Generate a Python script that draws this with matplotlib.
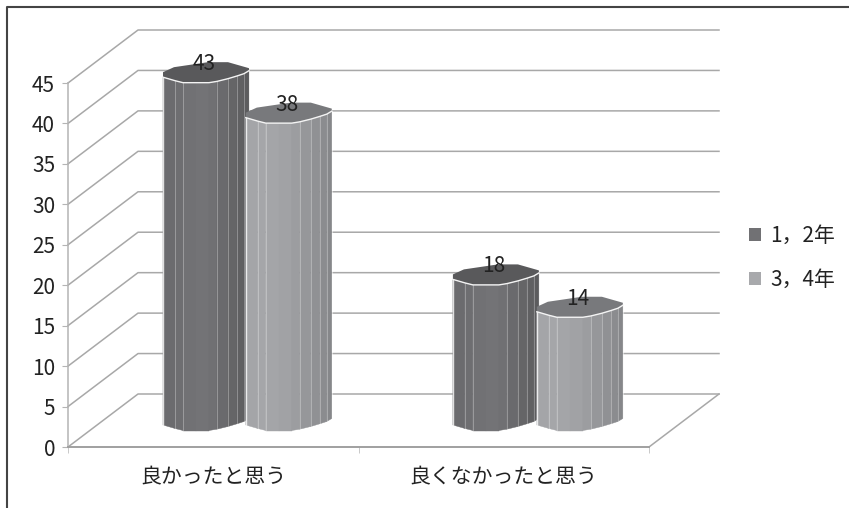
import numpy as np
import matplotlib
matplotlib.use("Agg")
import matplotlib.pyplot as plt
from matplotlib.patches import Polygon, Rectangle
from matplotlib.lines import Line2D
from matplotlib.font_manager import FontProperties

categories = ["良かったと思う", "良くなかったと思う"]
series_names = ["1，2年", "3，4年"]
series_a = [43, 18]
series_b = [38, 14]
y_ticks = [0, 5, 10, 15, 20, 25, 30, 35, 40, 45]

FAM = ['Noto Sans CJK JP', 'DejaVu Sans']
plt.rcParams['font.family'] = FAM
W, H = 849, 508
fig = plt.figure(figsize=(W/100, H/100), dpi=100)
L, R, B, T = 68, 649, 447, 83
ax = fig.add_axes([L/W, 1-B/H, (R-L)/W, (B-T)/H])
ax.set_xlim(0, 2)
ax.set_ylim(0, 45)
ax.patch.set_alpha(0)

ux = (R-L)/2          # px per category
uy = (B-T)/45         # px per value unit
DX, DY = 70/ux, 53/uy  # chart depth
GRID = '#a8a8a8'

for v in y_ticks:
    ax.plot([0, DX, 2+DX], [v, v+DY, v+DY], color=GRID, lw=1.1, clip_on=False, zorder=1)
ax.plot([2, 2+DX], [0, DY], color=GRID, lw=1.1, clip_on=False, zorder=1)

for s in ('top', 'right'):
    ax.spines[s].set_visible(False)
ax.spines['left'].set_color('#b4b4b4')
ax.spines['left'].set_linewidth(1.1)
ax.spines['bottom'].set_color('#a0a0a0')
ax.spines['bottom'].set_linewidth(1.4)
ax.set_yticks(y_ticks)
ax.set_xticks([0.5, 1.5], categories)
ax.set_xticks([0, 1, 2], minor=True)
ax.tick_params(axis='y', length=4.3, color='#b4b4b4', labelsize=15, labelcolor='#222222', pad=5)
ax.tick_params(axis='x', which='major', length=0, labelsize=15, labelcolor='#222222', pad=14)
ax.tick_params(axis='x', which='minor', length=4.3, color='#c0c0c0')

# cylinder cross-section, in pixels relative to the bar's centre
front_x = np.array([-43, -31, -23, -10, 3, 11, 22, 31, 38, 43], float)
front_y = np.array([3.5, 7, 9, 9, 9, 7.7, 5, 2.3, 0, -3])  # + = down
back_x = np.array([43, 43, 22, 2, -32, -43, -43], float)
back_y = np.array([-3, -5.5, -11.5, -11.5, -6.5, -1.5, 3.5])
shade_a = ['#6b6b6e', '#6e6e71', '#717174', '#737376', '#707073', '#6a6a6d', '#656567', '#606062', '#5c5c5e']
shade_b = ['#a4a5a8', '#a5a6a9', '#a4a5a8', '#a1a2a5', '#9c9da0', '#96979a', '#909194', '#8b8c8f', '#86878a']
FACETS = {'a': shade_a, 'b': shade_b}
TOPS = {'a': '#59595b', 'b': '#78797c'}
BASE = 25.5/uy


def draw_bar(cx, value, key, z):
    top = value + BASE
    for i in range(len(front_x)-1):
        xs = cx + front_x[i:i+2]/ux
        yt = top - front_y[i:i+2]/uy
        yb = BASE - front_y[i:i+2]/uy
        ax.add_patch(Polygon([(xs[0], yb[0]), (xs[1], yb[1]), (xs[1], yt[1]), (xs[0], yt[0])],
                             closed=True, fc=FACETS[key][i], ec=FACETS[key][i], lw=0.3,
                             clip_on=False, zorder=z))
    for i in range(1, len(front_x)-1):
        if i not in (3, 4):
            ax.plot([cx+front_x[i]/ux]*2,
                    [BASE-front_y[i]/uy, top-front_y[i]/uy],
                    color='white', alpha=0.3, lw=0.7, clip_on=False, zorder=z+.1)
    # outline of the body and the lid
    ax.plot([cx+front_x[0]/ux]*2, [BASE-front_y[0]/uy, top-front_y[0]/uy],
            color='white', alpha=0.8, lw=1.0, clip_on=False, zorder=z+.2)
    ax.plot([cx+front_x[-1]/ux]*2, [BASE-front_y[-1]/uy, top-front_y[-1]/uy],
            color='white', alpha=0.5, lw=0.8, clip_on=False, zorder=z+.2)
    lx = np.r_[front_x, back_x]/ux + cx
    ly = top - np.r_[front_y, back_y]/uy
    ax.add_patch(Polygon(np.c_[lx, ly], closed=True, fc=TOPS[key], ec='none', clip_on=False, zorder=z+.3))
    ax.plot(cx+front_x/ux, top-front_y/uy, color='#f4f4f4', lw=1.0, clip_on=False, zorder=z+.4)
    ax.text(cx-2/ux, top+9.5/uy, str(value), ha='center', va='center', fontsize=15,
            color='#222222', clip_on=False, zorder=20)


for i in range(len(categories)):
    draw_bar(i + 0.475 if i == 0 else i + 0.473, series_a[i], 'a', 3+i*2)
    draw_bar(i + 0.760 if i == 0 else i + 0.762, series_b[i], 'b', 4+i*2)

handles = [Rectangle((0, 0), 1, 1, fc='#717174', ec='none'),
           Rectangle((0, 0), 1, 1, fc='#a8a9ac', ec='none')]
fig.legend(handles, series_names, loc='center left', bbox_to_anchor=(749/W, 1-257.5/H),
           frameon=False, prop=FontProperties(family=FAM, size=15), labelcolor='#222222',
           handlelength=0.58, handleheight=0.58,
           handletextpad=0.45, labelspacing=1.05, borderpad=0, borderaxespad=0)

# page frame
fig.add_artist(Line2D([7/W, 7/W, 1], [0, 1-6.5/H, 1-6.5/H], color='#444444', lw=1.5))

fig.savefig('out.png', dpi=100)
